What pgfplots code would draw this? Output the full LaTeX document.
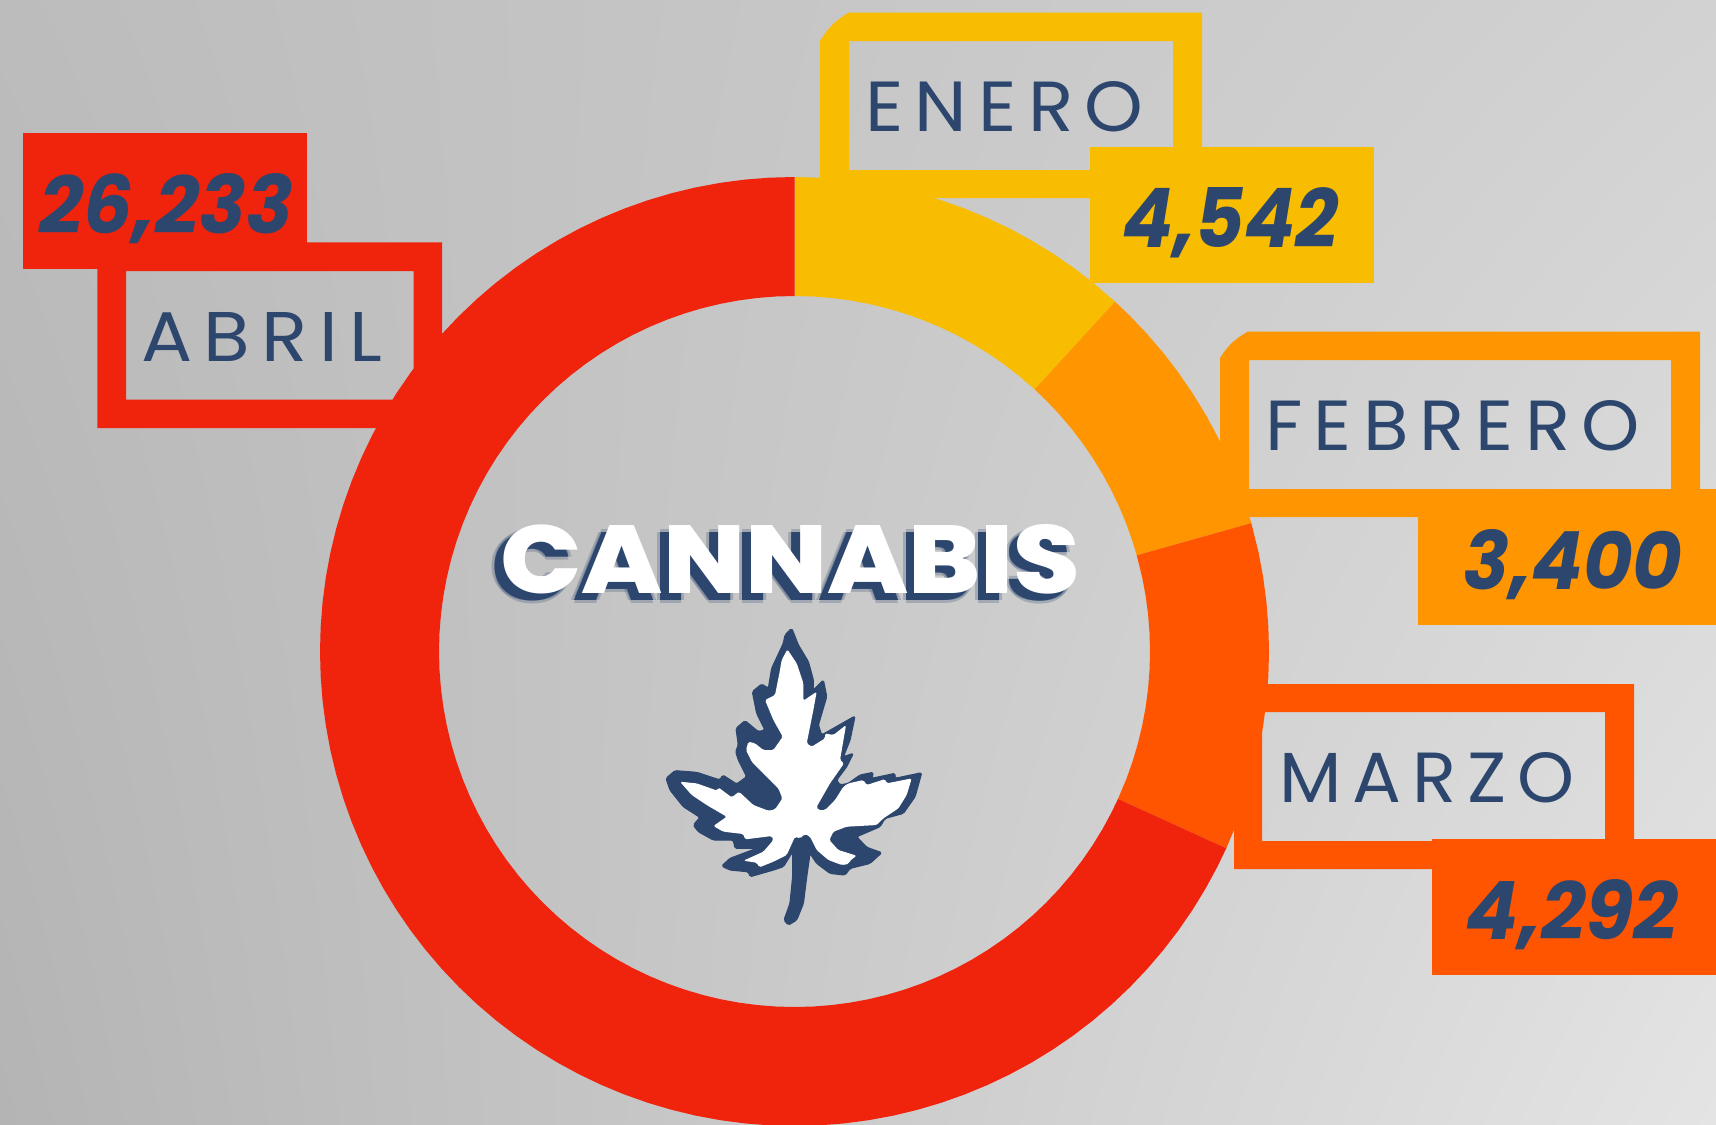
\documentclass[border=0pt]{standalone}
\usepackage{pgfplots}
\pgfplotsset{compat=1.18}
\usetikzlibrary{shadings}
\usepackage{graphicx}
\usepackage{fontspec}
\setmainfont{Poppins}
\newfontfamily\lightf[LetterSpace=15]{Poppins}
\newfontfamily\heavyf{Poppins ExtraBold}
\definecolor{navy}{HTML}{2C466E}
\definecolor{cred}{HTML}{F0230D}
\definecolor{cyel}{HTML}{F8BC00}
\definecolor{cora}{HTML}{FF9500}
\definecolor{cdor}{HTML}{FF5500}
\definecolor{bgul}{RGB}{188,188,188}
\definecolor{bgur}{RGB}{210,210,210}
\definecolor{bgll}{RGB}{180,180,180}
\definecolor{bglr}{RGB}{228,228,228}
\newcommand\txt[7]{\node[anchor=base west,inner sep=0pt,text=#6,#7] at (#1,#2) {\resizebox{\dimexpr #3pt/2\relax}{\dimexpr #4pt/2\relax}{#5}};}
\begin{document}
\begin{tikzpicture}
\useasboundingbox (0,0) rectangle (858pt,-562pt);
\shade[upper left=bgul,upper right=bgur,lower left=bgll,lower right=bglr]
  (0,0) rectangle (858pt,-562pt);
\begin{axis}[at={(0,0)},anchor=north west,scale only axis,width=858pt,height=562pt,
  xmin=-794.5,xmax=921.5,ymin=-472.5,ymax=651.5,hide axis,clip=false]
% ENERO 4,542
\addplot[fill=cyel,draw=none,data cs=polar] coordinates {(90,474.5)(87,474.5)(84,474.5)(81,474.5)(78,474.5)(75,474.5)(72,474.5)(69,474.5)(66,474.5)(63,474.5)(60,474.5)(57,474.5)(54,474.5)(51,474.5)(47.5,474.5)
 (47.5,355.5)(51,355.5)(54,355.5)(57,355.5)(60,355.5)(63,355.5)(66,355.5)(69,355.5)(72,355.5)(75,355.5)(78,355.5)(81,355.5)(84,355.5)(87,355.5)(90,355.5)} -- cycle;
% FEBRERO 3,400
\addplot[fill=cora,draw=none,data cs=polar] coordinates {(47.5,474.5)(45,474.5)(42,474.5)(39,474.5)(36,474.5)(33,474.5)(30,474.5)(27,474.5)(24,474.5)(21,474.5)(18,474.5)(15.7,474.5)
 (15.7,355.5)(18,355.5)(21,355.5)(24,355.5)(27,355.5)(30,355.5)(33,355.5)(36,355.5)(39,355.5)(42,355.5)(45,355.5)(47.5,355.5)} -- cycle;
% MARZO 4,292
\addplot[fill=cdor,draw=none,data cs=polar] coordinates {(15.7,474.5)(12,474.5)(9,474.5)(6,474.5)(3,474.5)(0,474.5)(-3,474.5)(-6,474.5)(-9,474.5)(-12,474.5)(-15,474.5)(-18,474.5)(-21,474.5)(-24.5,474.5)
 (-24.5,355.5)(-21,355.5)(-18,355.5)(-15,355.5)(-12,355.5)(-9,355.5)(-6,355.5)(-3,355.5)(0,355.5)(3,355.5)(6,355.5)(9,355.5)(12,355.5)(15.7,355.5)} -- cycle;
% ABRIL 26,233
\addplot[fill=cred,draw=none,data cs=polar] coordinates {(-24.5,474.5)(-27,474.5)(-30,474.5)(-33,474.5)(-36,474.5)(-39,474.5)(-42,474.5)(-45,474.5)(-48,474.5)(-51,474.5)(-54,474.5)(-57,474.5)(-60,474.5)(-63,474.5)(-66,474.5)(-69,474.5)(-72,474.5)(-75,474.5)(-78,474.5)(-81,474.5)(-84,474.5)(-87,474.5)(-90,474.5)(-93,474.5)(-96,474.5)(-99,474.5)(-102,474.5)(-105,474.5)(-108,474.5)(-111,474.5)(-114,474.5)(-117,474.5)(-120,474.5)(-123,474.5)(-126,474.5)(-129,474.5)(-132,474.5)(-135,474.5)(-138,474.5)(-141,474.5)(-144,474.5)(-147,474.5)(-150,474.5)(-153,474.5)(-156,474.5)(-159,474.5)(-162,474.5)(-165,474.5)(-168,474.5)(-171,474.5)(-174,474.5)(-177,474.5)(-180,474.5)(-183,474.5)(-186,474.5)(-189,474.5)(-192,474.5)(-195,474.5)(-198,474.5)(-201,474.5)(-204,474.5)(-207,474.5)(-210,474.5)(-213,474.5)(-216,474.5)(-219,474.5)(-222,474.5)(-225,474.5)(-228,474.5)(-231,474.5)(-234,474.5)(-237,474.5)(-240,474.5)(-243,474.5)(-246,474.5)(-249,474.5)(-252,474.5)(-255,474.5)(-258,474.5)(-261,474.5)(-264,474.5)(-267,474.5)(-270,474.5)
 (-270,355.5)(-267,355.5)(-264,355.5)(-261,355.5)(-258,355.5)(-255,355.5)(-252,355.5)(-249,355.5)(-246,355.5)(-243,355.5)(-240,355.5)(-237,355.5)(-234,355.5)(-231,355.5)(-228,355.5)(-225,355.5)(-222,355.5)(-219,355.5)(-216,355.5)(-213,355.5)(-210,355.5)(-207,355.5)(-204,355.5)(-201,355.5)(-198,355.5)(-195,355.5)(-192,355.5)(-189,355.5)(-186,355.5)(-183,355.5)(-180,355.5)(-177,355.5)(-174,355.5)(-171,355.5)(-168,355.5)(-165,355.5)(-162,355.5)(-159,355.5)(-156,355.5)(-153,355.5)(-150,355.5)(-147,355.5)(-144,355.5)(-141,355.5)(-138,355.5)(-135,355.5)(-132,355.5)(-129,355.5)(-126,355.5)(-123,355.5)(-120,355.5)(-117,355.5)(-114,355.5)(-111,355.5)(-108,355.5)(-105,355.5)(-102,355.5)(-99,355.5)(-96,355.5)(-93,355.5)(-90,355.5)(-87,355.5)(-84,355.5)(-81,355.5)(-78,355.5)(-75,355.5)(-72,355.5)(-69,355.5)(-66,355.5)(-63,355.5)(-60,355.5)(-57,355.5)(-54,355.5)(-51,355.5)(-48,355.5)(-45,355.5)(-42,355.5)(-39,355.5)(-36,355.5)(-33,355.5)(-30,355.5)(-27,355.5)(-24.5,355.5)} -- cycle;
\end{axis}
\begin{scope}[x=0.5pt,y=-0.5pt]
% frames
\fill[cyel,even odd rule] (820,41) to[bend left=14] (849,12.5)--(1202,12.5)--(1202,198)--(820,198)--cycle (849,41) rectangle (1173,170);
\fill[cyel] (1090,147) rectangle (1374,283);
\fill[cora,even odd rule] (1220,358) to[bend left=14] (1248,331.5)--(1700,331.5)--(1700,517)--(1220,517)--cycle (1249,360) rectangle (1671,489);
\fill[cora] (1418,489) rectangle (1716,625);
\fill[cdor,even odd rule] (1234,684) rectangle (1634,869) (1262,712) rectangle (1605,841);
\fill[cdor] (1432,839) rectangle (1716,975);
\fill[cred,even odd rule] (97.3,242.3) rectangle (442,428) (126,271) rectangle (413.7,399.7);
\fill[cred] (23,133) rectangle (307,269);
% labels
\txt{865}{131.7}{278}{50}{\lightf ENERO}{navy}{}
\txt{1265}{450.7}{374}{50}{\lightf FEBRERO}{navy}{}
\txt{1279}{802.7}{295}{50}{\lightf MARZO}{navy}{}
\txt{141}{361.7}{241}{49}{\lightf ABRIL}{navy}{}
% values
\txt{1122}{247}{216}{60}{\bfseries\itshape 4,542}{navy}{}
\txt{1463}{589}{219}{60}{\bfseries\itshape 3,400}{navy}{}
\txt{1465}{939}{213}{60}{\bfseries\itshape 4,292}{navy}{}
\txt{39}{233.5}{254}{60}{\bfseries\itshape 26,233}{navy}{}
% CANNABIS shadow + white
\txt{488.5}{600}{580}{69}{\heavyf CANNABIS}{navy}{opacity=.25}
\txt{494.5}{600}{580}{69}{\heavyf CANNABIS}{navy}{opacity=.25}
\txt{491.5}{603}{580}{69}{\heavyf CANNABIS}{navy}{opacity=.25}
\txt{491.5}{597}{580}{69}{\heavyf CANNABIS}{navy}{opacity=.25}
\txt{491.5}{600}{580}{69}{\heavyf CANNABIS}{navy}{}
\txt{500}{593}{580}{69}{\heavyf CANNABIS}{white}{}
\end{scope}
% leaf
\begin{scope}[x=0.166667pt,y=-0.166667pt,shift={(1920,1830)},rounded corners=0.8pt]
\filldraw[navy,line width=0.6pt,line join=round] (455,55)--(475,105)--(505,155)--(520,210)--(520,240)--(550,210)--(560,260)--(535,345)--(545,375)--(580,355)--(645,318)--(630,390)--(610,440)--(640,430)--(620,470)--(590,510)--(600,525)--(625,520)--(660,495)--(700,487)--(695,505)--(765,490)--(765,505)--(845,488)--(825,560)--(790,610)--(735,625)--(720,650)--(650,680)--(680,712)--(725,728)--(690,760)--(630,775)--(615,795)--(570,790)--(530,760)--(510,730)--(500,800)--(490,880)--(470,930)--(445,945)--(432,930)--(450,880)--(458,800)--(458,725)--(430,770)--(400,780)--(330,800)--(325,785)--(270,780)--(245,768)--(270,745)--(350,715)--(285,715)--(280,690)--(220,690)--(175,665)--(160,645)--(180,622)--(130,590)--(90,540)--(78,505)--(105,482)--(170,487)--(240,510)--(248,495)--(290,522)--(320,500)--(295,450)--(287,425)--(295,405)--(288,355)--(315,332)--(355,365)--(375,360)--(350,310)--(337,245)--(365,222)--(385,235)--(395,175)--(430,100)--(435,75)--cycle;
\fill[white] (442,118)--(470,160)--(490,220)--(490,272)--(530,245)--(520,300)--(500,400)--(515,410)--(555,385)--(555,370)--(580,375)--(618,345)--(600,450)--(612,460)--(570,520)--(530,590)--(535,600)--(555,600)--(585,570)--(610,530)--(625,520)--(670,510)--(680,525)--(735,507)--(740,520)--(815,505)--(800,555)--(775,595)--(730,625)--(710,645)--(620,650)--(580,665)--(568,690)--(595,720)--(650,737)--(630,752)--(625,762)--(605,765)--(565,750)--(530,720)--(510,680)--(495,672)--(480,685)--(465,680)--(440,735)--(400,755)--(358,772)--(350,758)--(310,752)--(370,725)--(400,690)--(395,678)--(315,688)--(310,672)--(250,665)--(220,648)--(260,620)--(200,585)--(155,555)--(120,515)--(170,520)--(232,542)--(235,532)--(275,562)--(297,545)--(340,585)--(385,602)--(405,598)--(427,565)--(415,535)--(370,490)--(335,455)--(318,420)--(325,395)--(345,400)--(370,420)--(400,420)--(428,380)--(400,330)--(375,270)--(405,255)--(418,190)--(425,150)--cycle;
\end{scope}
\end{tikzpicture}
\end{document}
